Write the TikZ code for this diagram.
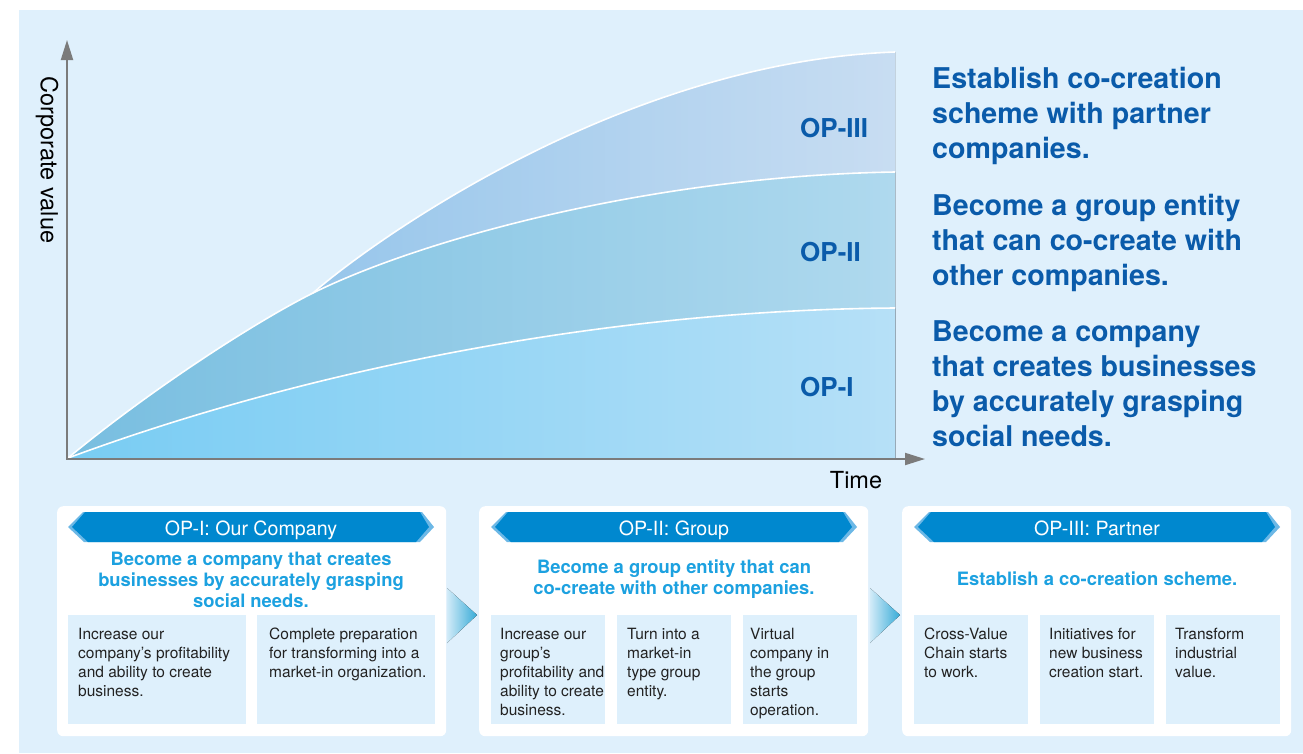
\documentclass[tikz,border=0pt]{standalone}
\usepackage{fontspec}
\setmainfont{TeX Gyre Heros}
\usetikzlibrary{arrows.meta}
\definecolor{bgblue}{HTML}{DFF0FC}
\definecolor{bthreeL}{HTML}{97C6EB}
\definecolor{bthreeR}{HTML}{C8DDF2}
\definecolor{btwoL}{HTML}{78BEE0}
\definecolor{btwoR}{HTML}{AFD9EE}
\definecolor{boneL}{HTML}{78CCF3}
\definecolor{boneR}{HTML}{B6E0F7}
\definecolor{darkblue}{HTML}{0A5BAA}
\definecolor{bandark}{HTML}{0088CF}
\definecolor{banlight}{HTML}{6CB8E6}
\definecolor{subblue}{HTML}{1CA1E0}
\definecolor{boxblue}{HTML}{DEF0FC}
\definecolor{boxtext}{HTML}{222222}
\definecolor{chevL}{HTML}{D2EBF8}
\definecolor{chevR}{HTML}{36ABD7}
\definecolor{axisgray}{HTML}{7B7B7B}
\newcommand{\txtl}[1]{\begin{tabular}[t]{@{}l@{}}#1\end{tabular}}
\newcommand{\txtc}[1]{\begin{tabular}[t]{@{}c@{}}#1\end{tabular}}
\tikzset{
  curveline/.style={draw=white, line width=1.6pt},
  axisline/.style={draw=axisgray, line width=2pt},
  oplabel/.style={anchor=base west, inner sep=0, text=darkblue, font=\fontsize{26}{30}\selectfont\bfseries},
  rtext/.style={anchor=base west, inner sep=0, text=darkblue, font=\fontsize{28.6}{35}\selectfont\bfseries},
  axlabel/.style={inner sep=0, text=black, font=\fontsize{23.5}{27}\selectfont},
  panel/.style={fill=white, rounded corners=6pt, minimum width=389pt, minimum height=230pt, inner sep=0, anchor=north west},
  bantext/.style={anchor=base, inner sep=0, text=white, font=\fontsize{19.6}{22}\selectfont},
  subt/.style={anchor=base, inner sep=0, text=subblue, font=\fontsize{18.4}{21.3}\selectfont\bfseries},
  subbox/.style={fill=boxblue, minimum height=109pt, inner sep=0, anchor=north west},
  boxtxt/.style={anchor=base west, inner sep=0, text=boxtext, font=\fontsize{15.5}{19}\selectfont},
}
\newcommand{\banner}[1]{%
  \begin{scope}[shift={(#1,0)}]
    \fill[banlight] (-183,527) -- (-168,512) -- (171,512) -- (183,527) -- (169,542) -- (-167,542) -- cycle;
    \fill[bandark] (-179,527) -- (-166,512) -- (169,512) -- (178,527) -- (165,542) -- (-163,542) -- cycle;
  \end{scope}}
\begin{document}
\begin{tikzpicture}[x=1pt,y=-1pt]
\useasboundingbox (0,0) rectangle (1303,753);
\fill[white] (0,0) rectangle (1303,753);
\fill[bgblue] (19,10) rectangle (1303,753);

% chart coordinates
\coordinate (O) at (68,458);
\coordinate (P) at (313,293);
\coordinate (E1) at (895,308);
\coordinate (E2) at (895,172);
\coordinate (E3) at (895,52);
\coordinate (B) at (895,458);

% bands
\fill[left color=bthreeL, right color=bthreeR] (P) .. controls (370,243) and (620,62) .. (E3) -- (B) -- cycle;
\fill[left color=btwoL, right color=btwoR] (O) .. controls (150,390) and (255,322) .. (P) .. controls (420,240) and (650,176) .. (E2) -- (B) -- cycle;
\fill[left color=boneL, right color=boneR] (O) .. controls (300,372) and (600,310) .. (E1) -- (B) -- cycle;

% white curves
\draw[curveline] (P) .. controls (370,243) and (620,62) .. (E3);
\draw[curveline] (O) .. controls (150,390) and (255,322) .. (P) .. controls (420,240) and (650,176) .. (E2);
\draw[curveline] (O) .. controls (300,372) and (600,310) .. (E1);

% axes
\coordinate (AX) at (67,459);
\coordinate (YT) at (67,40);
\coordinate (XT) at (925,459);
\draw[axisline, {Triangle[length=20pt,width=12pt]}-{Triangle[length=20pt,width=12pt]}] (YT) -- (AX) -- (XT);
\node[axlabel, rotate=-90] (ylab) at (47,160) {Corporate value};
\node[axlabel, anchor=base] (xlab) at (856,488) {Time};

% band labels
\node[oplabel] (l3) at (800,137) {OP-III};
\node[oplabel] (l2) at (800,261) {OP-II};
\node[oplabel] (l1) at (800,396) {OP-I};

% right texts
\node[rtext] (t3) at (932,88) {\txtl{Establish co-creation\\scheme with partner\\companies.}};
\node[rtext] (t2) at (932,215) {\txtl{Become a group entity\\that can co-create with\\other companies.}};
\node[rtext] (t1) at (932,341) {\txtl{Become a company\\that creates businesses\\by accurately grasping\\social needs.}};

% panels
\node[panel] (p1) at (57,506) {};
\node[panel] (p2) at (479,506) {};
\node[panel] (p3) at (902,506) {};

% chevrons
\fill[left color=chevL, right color=chevR] (447,588) -- (477,615) -- (447,643) -- cycle;
\fill[left color=chevL, right color=chevR] (870,588) -- (900,615) -- (870,643) -- cycle;

% banners
\banner{251}
\banner{674}
\banner{1097}
\node[bantext] (b1) at (251,535) {OP-I: Our Company};
\node[bantext] (b2) at (674,535) {OP-II: Group};
\node[bantext] (b3) at (1097,535) {OP-III: Partner};

% subtitles
\node[subt] (s1) at (251,565) {\txtc{Become a company that creates\\businesses by accurately grasping\\social needs.}};
\node[subt] (s2) at (674,573) {\txtc{Become a group entity that can\\co-create with other companies.}};
\node[subt] (s3) at (1097,585) {Establish a co-creation scheme.};

% sub boxes
\node[subbox, minimum width=178pt] (x11) at (68,615) {};
\node[subbox, minimum width=178pt] (x12) at (257,615) {};
\node[subbox, minimum width=114pt] (x21) at (491,615) {};
\node[subbox, minimum width=114pt] (x22) at (617,615) {};
\node[subbox, minimum width=114pt] (x23) at (743,615) {};
\node[subbox, minimum width=114pt] (x31) at (914,615) {};
\node[subbox, minimum width=114pt] (x32) at (1040,615) {};
\node[subbox, minimum width=114pt] (x33) at (1166,615) {};

\node[boxtxt] (y11) at (78,639) {\txtl{Increase our\\company’s profitability\\and ability to create\\business.}};
\node[boxtxt] (y12) at (269,639) {\txtl{Complete preparation\\for transforming into a\\market-in organization.}};
\node[boxtxt] (y21) at (500,639) {\txtl{Increase our\\group’s\\profitability and\\ability to create\\business.}};
\node[boxtxt] (y22) at (627,639) {\txtl{Turn into a\\market-in\\type group\\entity.}};
\node[boxtxt] (y23) at (750,639) {\txtl{Virtual\\company in\\the group\\starts\\operation.}};
\node[boxtxt] (y31) at (924,639) {\txtl{Cross-Value\\Chain starts\\to work.}};
\node[boxtxt] (y32) at (1049,639) {\txtl{Initiatives for\\new business\\creation start.}};
\node[boxtxt] (y33) at (1175,639) {\txtl{Transform\\industrial\\value.}};
\end{tikzpicture}
\end{document}
